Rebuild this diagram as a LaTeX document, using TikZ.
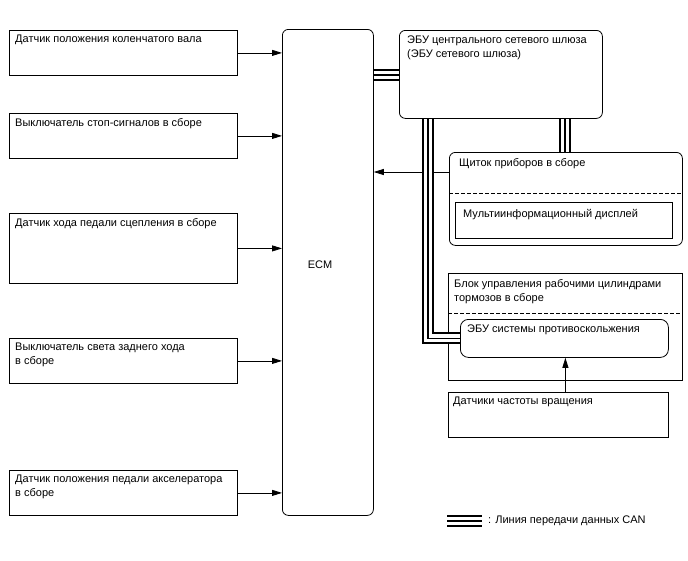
\documentclass[tikz,border=0pt]{standalone}
\usepackage{fontspec}
\setmainfont{Liberation Sans}
\usetikzlibrary{arrows.meta,calc}
\begin{document}
\begin{tikzpicture}[x=1pt,y=-1pt,
  box/.style={draw, line width=0.8pt, inner sep=0, anchor=north west},
  rbox/.style={box, rounded corners=6pt},
  txt/.style={anchor=north west, inner sep=0, font=\fontsize{11}{14}\selectfont, align=left},
  arr/.style={-{Triangle[length=10pt,width=6pt]}, line width=0.8pt},
  canouter/.style={draw, line width=2pt, double=white, double distance=8pt, line cap=butt},
  caninner/.style={draw, line width=1.6pt, line cap=butt},
  dashsep/.style={draw, line width=0.7pt, dash pattern=on 4pt off 2pt}
]
\useasboundingbox (0,0) rectangle (688,560);

% left input boxes
\node[box, minimum width=228pt, minimum height=45pt] (s1) at (9,30) {};
\node[box, minimum width=228pt, minimum height=45pt] (s2) at (9,113) {};
\node[box, minimum width=228pt, minimum height=70pt] (s3) at (9,213) {};
\node[box, minimum width=228pt, minimum height=45pt] (s4) at (9,338) {};
\node[box, minimum width=228pt, minimum height=45pt] (s5) at (9,470) {};
\node[txt] (t1) at ($(s1.north west)+(6,5)$) {Датчик положения коленчатого вала};
\node[txt] (t2) at ($(s2.north west)+(6,5)$) {Выключатель стоп-сигналов в сборе};
\node[txt] (t3) at ($(s3.north west)+(6,5)$) {Датчик хода педали сцепления в сборе};
\node[txt] (t4) at ($(s4.north west)+(6,5)$) {Выключатель света заднего хода\\в сборе};
\node[txt] (t5) at ($(s5.north west)+(6,5)$) {Датчик положения педали акселератора\\в сборе};

% ECM
\node[rbox, minimum width=91pt, minimum height=486pt] (ecm) at (282,29) {};
\node[anchor=center, inner sep=0, font=\fontsize{11}{14}\selectfont] (ecmt) at (320,265) {ECM};

% gateway
\node[rbox, minimum width=203pt, minimum height=88pt] (gw) at (399,30) {};
\node[txt] (gwt) at ($(gw.north west)+(8,6)$) {ЭБУ центрального сетевого шлюза\\(ЭБУ сетевого шлюза)};

% instrument cluster
\node[rbox, minimum width=233pt, minimum height=93pt] (cl) at (449,152) {};
\node[txt] (clt) at ($(cl.north west)+(10,6)$) {Щиток приборов в сборе};
\draw[dashsep] ($(cl.north west)+(0,41)$) coordinate (cld) -- (cld -| cl.east);
\node[box, minimum width=217pt, minimum height=36pt] (disp) at (455,202) {};
\node[txt] (dispt) at ($(disp.north west)+(8,7)$) {Мультиинформационный дисплей};

% brake actuator block
\node[box, minimum width=234pt, minimum height=107pt] (br) at (448,273) {};
\node[txt] (brt) at ($(br.north west)+(6,6)$) {Блок управления рабочими цилиндрами\\тормозов в сборе};
\draw[dashsep] ($(br.north west)+(0,40)$) coordinate (brd) -- (brd -| br.east);
\node[box, rounded corners=8pt, minimum width=208pt, minimum height=38pt] (abs) at (460,319) {};
\node[txt] (abst) at ($(abs.north west)+(7,6)$) {ЭБУ системы противоскольжения};

% speed sensors
\node[box, minimum width=220pt, minimum height=45pt] (sp) at (448,392) {};
\node[txt] (spt) at ($(sp.north west)+(5,5)$) {Датчики частоты вращения};

% arrows into ECM
\foreach \s in {s1,s2,s3,s4,s5}{
  \draw[arr] (\s.east) -- (\s.east -| ecm.west);
}
% cluster -> ECM
\draw[arr] ($(cl.north west)+(0,20)$) coordinate (ca) -- (ca -| ecm.east);
% sensors -> ABS ECU
\draw[arr] ($(sp.north)+(7,0)$) coordinate (spa) -- (spa |- abs.south);

% CAN lines
\path[canouter] ($(ecm.north east)+(0,46)$) coordinate (can1) -- (can1 -| gw.west);
\path[caninner] (can1) -- (can1 -| gw.west);
\path[canouter] ($(gw.south west)+(166,0)$) coordinate (can2) -- (can2 |- cl.north);
\path[caninner] (can2) -- (can2 |- cl.north);
\path[canouter] ($(gw.south west)+(29,0)$) coordinate (can3) |- (abs.west);
\path[caninner] (can3) |- (abs.west);

% legend
\coordinate (lg1) at (447,521);
\coordinate (lg2) at (482,521);
\path[canouter] (lg1) -- (lg2);
\path[caninner] (lg1) -- (lg2);
\node[anchor=west, inner sep=0, font=\fontsize{11}{14}\selectfont] (lgt) at ($(lg2)+(6,0)$) {: Линия передачи данных CAN};
\end{tikzpicture}
\end{document}
